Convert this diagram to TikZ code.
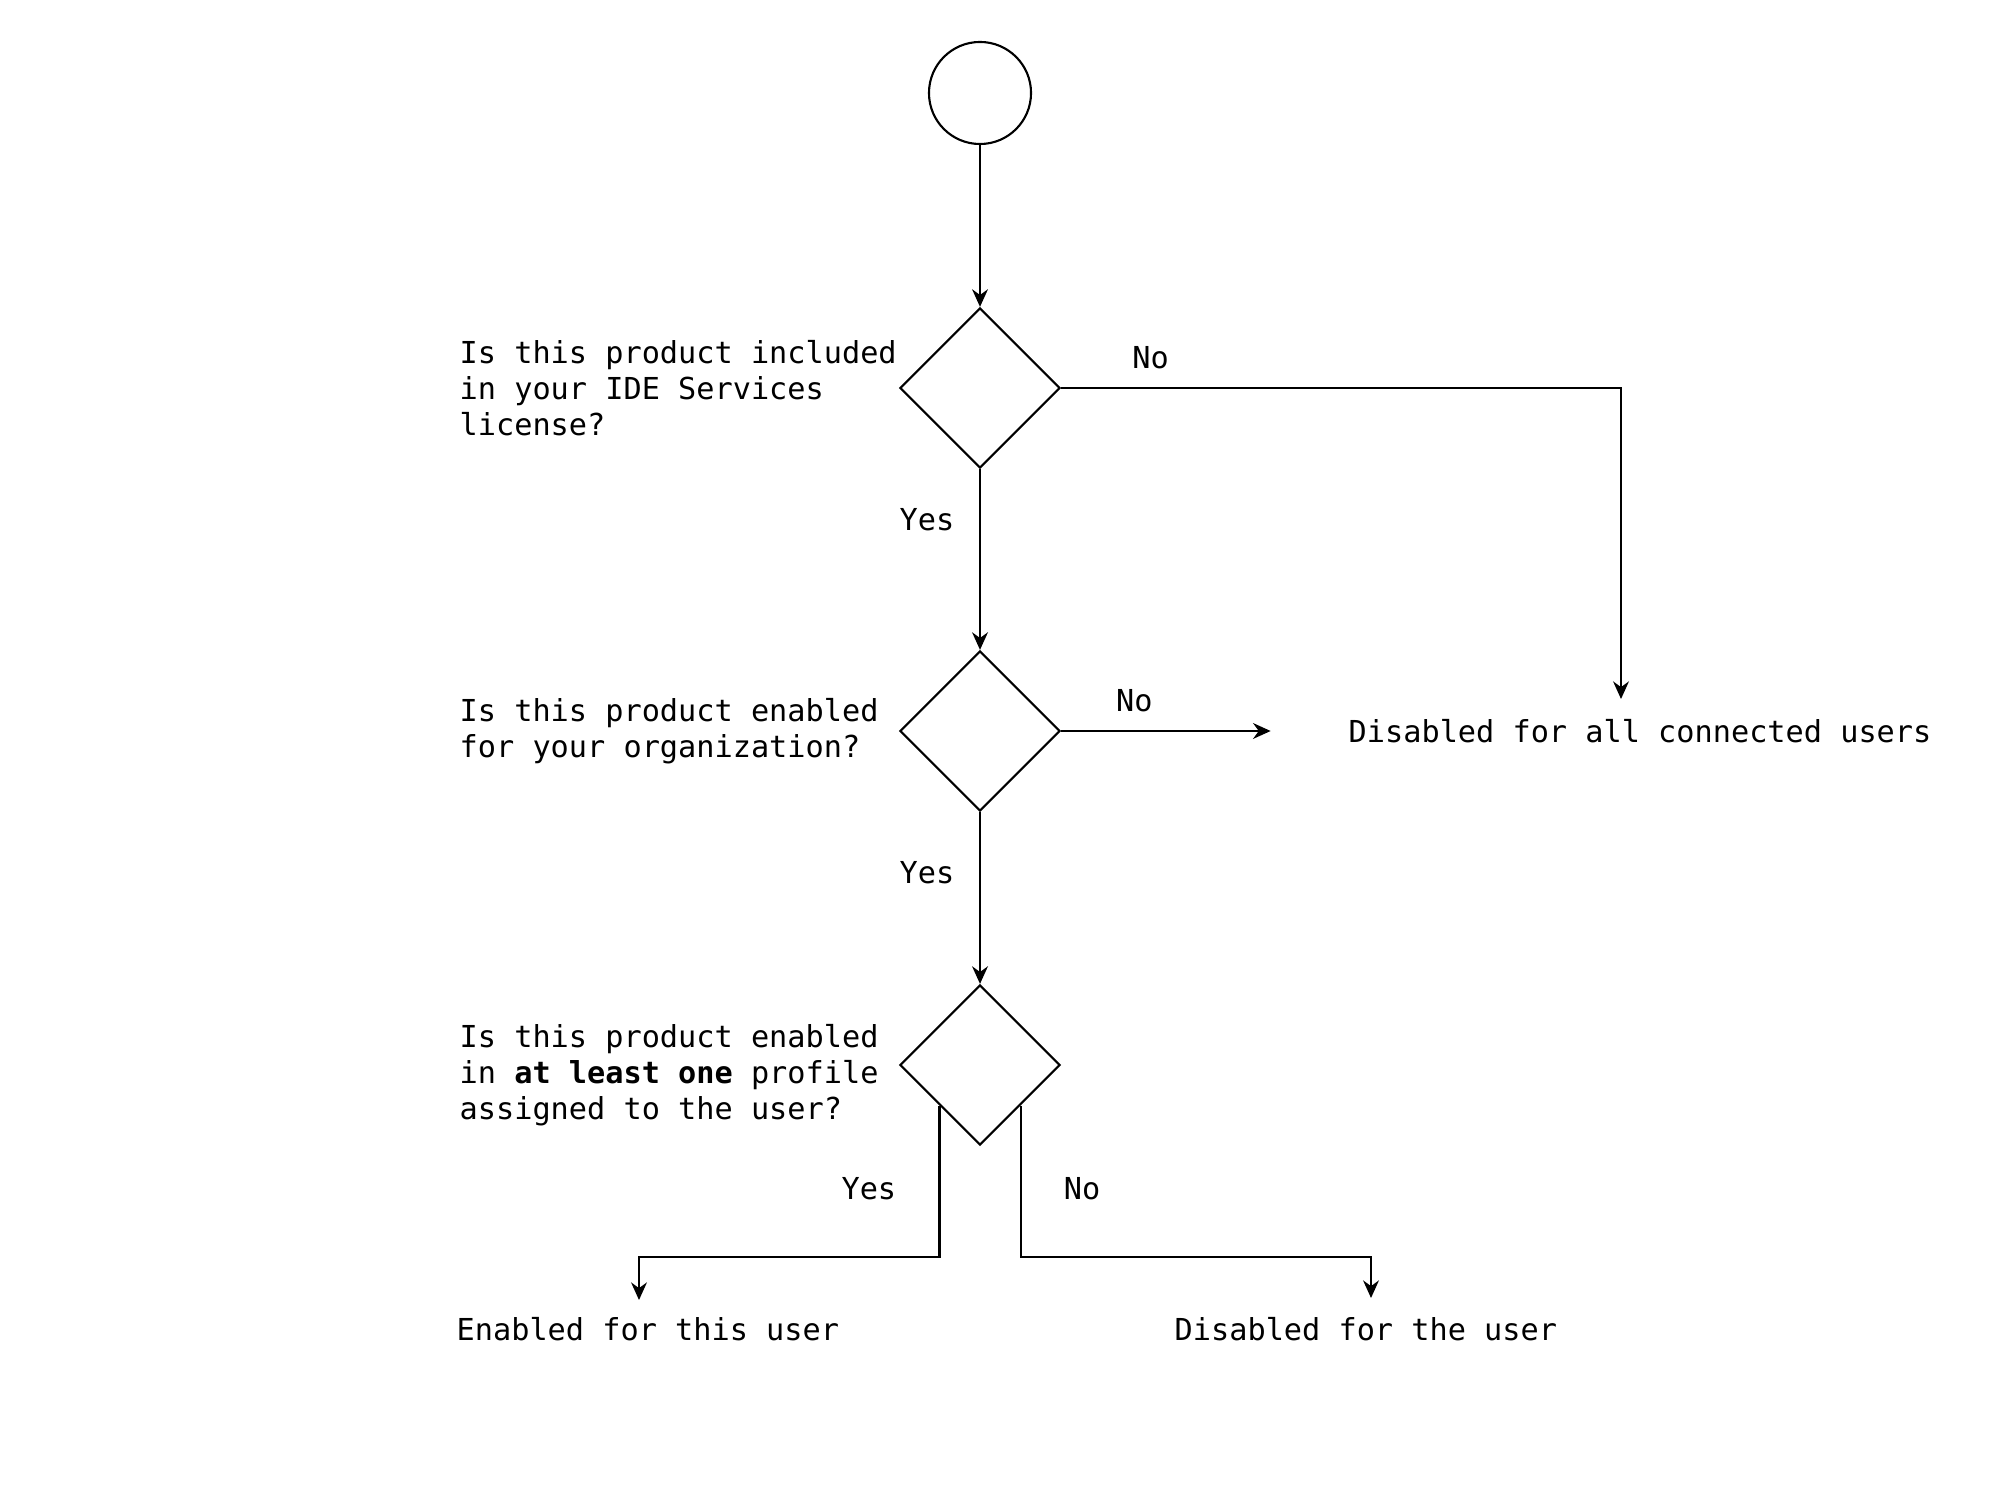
\documentclass[tikz,border=0pt]{standalone}
\usepackage{fontspec}
\setmonofont{DejaVu Sans Mono}
\usetikzlibrary{%
  arrows.meta,
  shapes.geometric
}

\tikzset{
  flow/.style = {draw, line width=0.6pt},
  decision/.style = {flow, diamond, aspect=1, minimum size=1.6cm, inner sep=0pt},
  txt/.style = {font=\ttfamily\fontsize{8.6}{10.3}\selectfont, inner sep=0pt},
  arr/.style = {line width=0.6pt, -{Stealth[length=5pt,width=4.5pt]}}
}

\begin{document}
\begin{tikzpicture}[x=0.01cm, y=-0.01cm]

  \useasboundingbox (0,0) rectangle (2000,1492);

  \node[flow, circle, minimum size=1.02cm, inner sep=0pt] (start) at (980,93) {};
  \node[decision] (lic) at (980,388) {};
  \node[decision] (org) at (980,731) {};
  \node[decision] (prof) at (980,1065) {};

  \node[txt, anchor=west, align=left] (qlic) at (459,388)
    {Is this product included\\in your IDE Services\\license?};
  \node[txt, anchor=west, align=left] (qorg) at (459,731)
    {Is this product enabled\\for your organization?};
  \node[txt, anchor=west, align=left] (qprof) at (459,1075)
    {Is this product enabled\\in \textbf{at least one} profile\\assigned to the user?};

  \node[txt, anchor=west] (alloff) at (1348,731) {Disabled for all connected users};
  \node[txt, anchor=west] (useron) at (456,1329) {Enabled for this user};
  \node[txt, anchor=west] (useroff) at (1174,1329) {Disabled for the user};

  \coordinate (topin) at (1621,699);
  \coordinate (onin) at (639,1300);
  \coordinate (offin) at (1371,1298);

  \draw[arr] (start) -- (lic);
  \draw[arr] (lic) -- node[txt, pos=0.28, left=7pt] {Yes} (org);
  \draw[arr] (org) -- node[txt, pos=0.35, left=7pt] {Yes} (prof);
  \draw[arr] (lic.east) -- node[txt, pos=0.16, above=5pt] {No} (lic.east -| topin) -- (topin);
  \draw[arr] (org.east) -- node[txt, pos=0.35, above=5pt] {No} ([xshift=-22]alloff.west);
  \draw[arr] (prof.south west) -- node[txt, pos=0.55, left=12pt] {Yes} (prof.south west |- 0,1257) -- (onin |- 0,1257) -- (onin);
  \draw[arr] (prof.south east) -- node[txt, pos=0.55, right=12pt] {No} (prof.south east |- 0,1257) -- (offin |- 0,1257) -- (offin);

\end{tikzpicture}
\end{document}
